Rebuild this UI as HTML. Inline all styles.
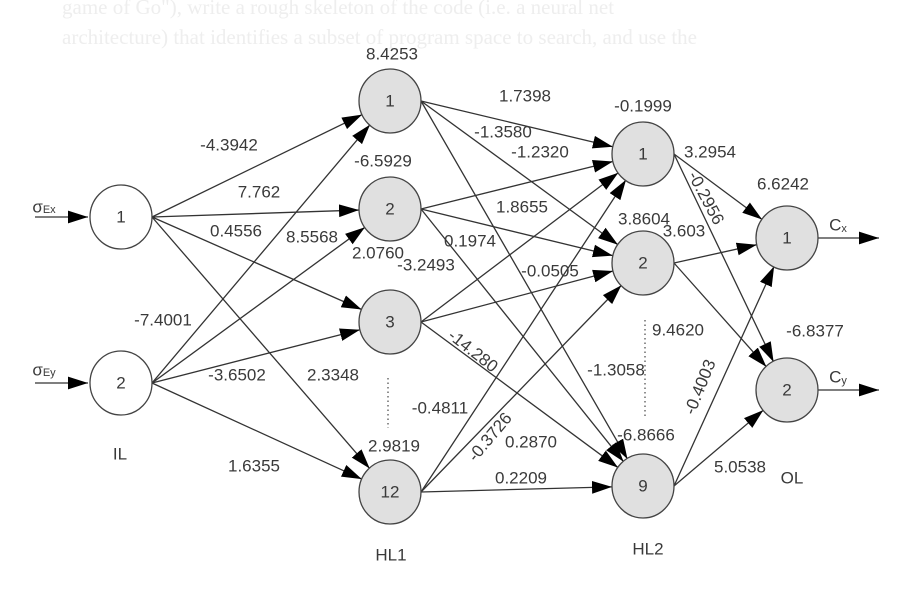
<!DOCTYPE html>
<html><head><meta charset="utf-8"><style>
body{margin:0;background:#fff;}
svg{display:block;font-family:"Liberation Sans",Arial,sans-serif;}
.l{font-size:17px;fill:#3a3a3a;text-anchor:middle;dominant-baseline:central;}
.bg{font-family:"Liberation Serif",serif;font-size:21px;fill:#eeeeee;}
</style></head><body>
<svg id="s" width="917" height="599" viewBox="0 0 917 599" xmlns="http://www.w3.org/2000/svg">
<defs><marker id="a" viewBox="0 0 10 10" refX="10" refY="5" markerWidth="20" markerHeight="20" markerUnits="userSpaceOnUse" orient="auto"><path d="M0,1.8 L10,5 L0,8.2 z" fill="#000"/></marker></defs>
<text class="bg" x="62" y="14">game of Go"), write a rough skeleton of the code (i.e. a neural net</text>
<text class="bg" x="62" y="44">architecture) that identifies a subset of program space to search, and use the</text>
<g id="edges" stroke="#333" stroke-width="1.3" fill="none"></g>
<line x1="35" y1="217" x2="88" y2="217" stroke="#333" stroke-width="1.3" marker-end="url(#a)"/>
<line x1="35" y1="383" x2="88" y2="383" stroke="#333" stroke-width="1.3" marker-end="url(#a)"/>
<line x1="818" y1="238" x2="879" y2="238" stroke="#333" stroke-width="1.3" marker-end="url(#a)"/>
<line x1="818" y1="390" x2="879" y2="390" stroke="#333" stroke-width="1.3" marker-end="url(#a)"/>
<line x1="388" y1="378" x2="388" y2="428" stroke="#555" stroke-width="1.3" stroke-dasharray="1.5,3"/>
<line x1="645" y1="320" x2="645" y2="418" stroke="#555" stroke-width="1.3" stroke-dasharray="1.5,3"/>
<g id="nodes"></g>
<g class="l">
<text x="392" y="54">8.4253</text><text x="525" y="96">1.7398</text><text x="643" y="106">-0.1999</text>
<text x="503" y="132">-1.3580</text><text x="229" y="145">-4.3942</text><text x="540" y="152">-1.2320</text>
<text x="710" y="152">3.2954</text><text x="383" y="161">-6.5929</text><text x="783" y="184">6.6242</text>
<text x="259" y="192">7.762</text><text x="522" y="207">1.8655</text>
<text x="706" y="198" transform="rotate(62 706 198)">-0.2956</text>
<text x="236" y="231">0.4556</text><text x="644" y="219">3.8604</text><text x="684" y="231">3.603</text>
<text x="312" y="237">8.5568</text><text x="470" y="241">0.1974</text><text x="426" y="265">-3.2493</text>
<text x="378" y="253">2.0760</text><text x="550" y="271">-0.0505</text>
<text x="163" y="320">-7.4001</text><text x="678" y="330">9.4620</text><text x="815" y="331">-6.8377</text>
<text x="473" y="351" transform="rotate(38 473 351)">-14.280</text>
<text x="237" y="375">-3.6502</text><text x="333" y="375">2.3348</text><text x="616" y="370">-1.3058</text>
<text x="700" y="387" transform="rotate(-68 700 387)">-0.4003</text>
<text x="440" y="408">-0.4811</text><text x="646" y="435">-6.8666</text>
<text x="490" y="437" transform="rotate(-50 490 437)">-0.3726</text>
<text x="531" y="442">0.2870</text><text x="394" y="446">2.9819</text><text x="120" y="454">IL</text>
<text x="254" y="466">1.6355</text><text x="521" y="478">0.2209</text><text x="740" y="467">5.0538</text>
<text x="792" y="478">OL</text><text x="391" y="555">HL1</text><text x="648" y="549">HL2</text>
<text x="44" y="207">σ<tspan font-size="11" dy="3">Ex</tspan></text>
<text x="44" y="370">σ<tspan font-size="11" dy="3">Ey</tspan></text>
<text x="838" y="225">C<tspan font-size="11" dy="4">x</tspan></text>
<text x="838" y="377">C<tspan font-size="11" dy="4">y</tspan></text>
</g>
</svg>
<script>
var R=31;
var IL=[[121,217,'1'],[121,383,'2']];
var H1=[[390,101,'1'],[390,209,'2'],[390,322,'3'],[390,492,'12']];
var H2=[[643,154,'1'],[643,263,'2'],[643,486,'9']];
var OL=[[787,238,'1'],[787,390,'2']];
var NS='http://www.w3.org/2000/svg';
var E=document.getElementById('edges'),N=document.getElementById('nodes');
function conn(A,B){A.forEach(function(a){B.forEach(function(b){
 var sx=a[0]+R,sy=a[1],dx=b[0]-sx,dy=b[1]-sy,d=Math.sqrt(dx*dx+dy*dy);
 var ex=b[0]-dx/d*R,ey=b[1]-dy/d*R;
 var l=document.createElementNS(NS,'line');
 l.setAttribute('x1',sx);l.setAttribute('y1',sy);l.setAttribute('x2',ex);l.setAttribute('y2',ey);
 l.setAttribute('marker-end','url(#a)');E.appendChild(l);});});}
conn(IL,H1);conn(H1,H2);conn(H2,OL);
function nodes(A,fill){A.forEach(function(a){
 var c=document.createElementNS(NS,'ellipse');c.setAttribute('cx',a[0]);c.setAttribute('cy',a[1]);c.setAttribute('rx',R);c.setAttribute('ry',R+1);
 c.setAttribute('fill',fill);c.setAttribute('stroke','#444');c.setAttribute('stroke-width','1.3');N.appendChild(c);
 var t=document.createElementNS(NS,'text');t.setAttribute('x',a[0]);t.setAttribute('y',a[1]);t.setAttribute('class','l');t.textContent=a[2];N.appendChild(t);});}
nodes(IL,'#fff');nodes(H1,'#e0e0e0');nodes(H2,'#e0e0e0');nodes(OL,'#e0e0e0');
</script>
</body></html>
